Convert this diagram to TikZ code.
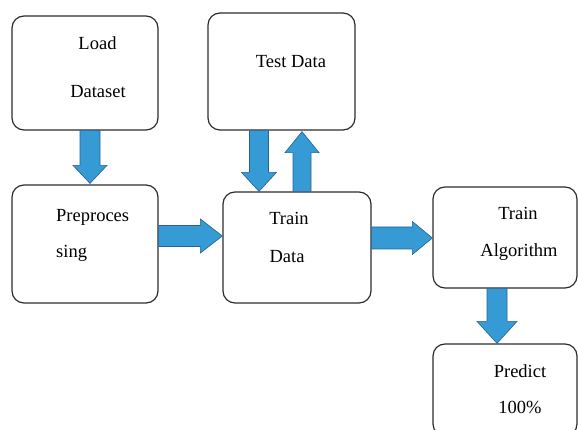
\documentclass[tikz,border=0pt]{standalone}
\usepackage{fontspec}
\setmainfont{Liberation Serif}
\usetikzlibrary{calc}
\definecolor{arrowfill}{RGB}{54,154,212}
\definecolor{arrowline}{RGB}{38,98,148}
\definecolor{boxline}{RGB}{45,45,45}
\tikzset{
  aw/.store in=\aw, aW/.store in=\aW, ah/.store in=\ah,
  aw=10pt, aW=18pt, ah=20pt,
  box/.style={draw=boxline, line width=1.2pt, rounded corners=12pt, inner sep=0pt},
  lbl/.style={anchor=base, inner sep=0pt, font=\fontsize{18.5}{20}\selectfont},
  barrow/.style={fill=arrowfill, draw=arrowline, line width=0.6pt, line join=miter,
    to path={
      ($(\tikztostart)!\aw!90:(\tikztotarget)$) --
      ($(\tikztotarget)!\ah!(\tikztostart)!\aw!90:(\tikztotarget)$) --
      ($(\tikztotarget)!\ah!(\tikztostart)!\aW!90:(\tikztotarget)$) --
      (\tikztotarget) --
      ($(\tikztotarget)!\ah!(\tikztostart)!\aW!-90:(\tikztotarget)$) --
      ($(\tikztotarget)!\ah!(\tikztostart)!\aw!-90:(\tikztotarget)$) --
      ($(\tikztostart)!\aw!-90:(\tikztotarget)$) -- cycle
    }},
}
\begin{document}
\begin{tikzpicture}[x=1pt,y=-1pt]
\useasboundingbox (0,0) rectangle (578,430);
\clip (0,0) rectangle (578,430);
% boxes
\node[box, minimum width=146pt, minimum height=114pt] (load) at (85,73) {};
\node[box, minimum width=147pt, minimum height=117pt] (test) at (281.5,71.5) {};
\node[box, minimum width=146pt, minimum height=118pt] (pre) at (85,244) {};
\node[box, minimum width=148pt, minimum height=111pt] (train) at (297,247.5) {};
\node[box, minimum width=144pt, minimum height=101pt] (alg) at (505,237.5) {};
\node[box, minimum width=144pt, minimum height=92pt] (pred) at (505,390) {};
% texts
\node[lbl] (t1a) at (97.5,50) {Load};
\node[lbl] (t1b) at (98,98) {Dataset};
\node[lbl] (t2) at (291,68) {Test Data};
\node[lbl, anchor=base west] (t3a) at (56,222) {Preproces};
\node[lbl, anchor=base west] (t3b) at (56,258) {sing};
\node[lbl] (t4a) at (289,225) {Train};
\node[lbl] (t4b) at (287,262) {Data};
\node[lbl] (t5a) at (518,220) {Train};
\node[lbl] (t5b) at (519,257) {Algorithm};
\node[lbl] (t6a) at (520,377) {Predict};
\node[lbl] (t6b) at (520,413) {100\%};
% arrow end points
\coordinate (a1s) at ($(load.south)+(5,0)$);
\coordinate (a1e) at ($(a1s |- pre.north)+(0,-1)$);
\coordinate (a2s) at ($(test.south)+(-22.5,0)$);
\coordinate (a2e) at (a2s |- train.north);
\coordinate (a3s) at ($(train.north)+(5,0)$);
\coordinate (a3e) at ($(a3s |- test.south)+(0,1)$);
\coordinate (a4s) at ($(pre.east)+(0,-8)$);
\coordinate (a4e) at (a4s -| train.west);
\coordinate (a5e) at ($(alg.west)+(0,0.5)$);
\coordinate (a5s) at (a5e -| train.east);
\coordinate (a6s) at ($(alg.south)+(-8,0)$);
\coordinate (a6e) at (a6s |- pred.north);
% block arrows
\draw[barrow, aw=10pt, aW=17pt, ah=18pt] (a1s) to (a1e);
\draw[barrow, aw=9.5pt, aW=17.5pt, ah=19pt] (a2s) to (a2e);
\draw[barrow, aw=9pt, aW=17pt, ah=21pt] (a3s) to (a3e);
\draw[barrow, aw=10.5pt, aW=17pt, ah=22pt] (a4s) to (a4e);
\draw[barrow, aw=11pt, aW=16.5pt, ah=20pt] (a5s) to (a5e);
\draw[barrow, aw=10pt, aW=20pt, ah=22pt] (a6s) to (a6e);
\end{tikzpicture}
\end{document}
